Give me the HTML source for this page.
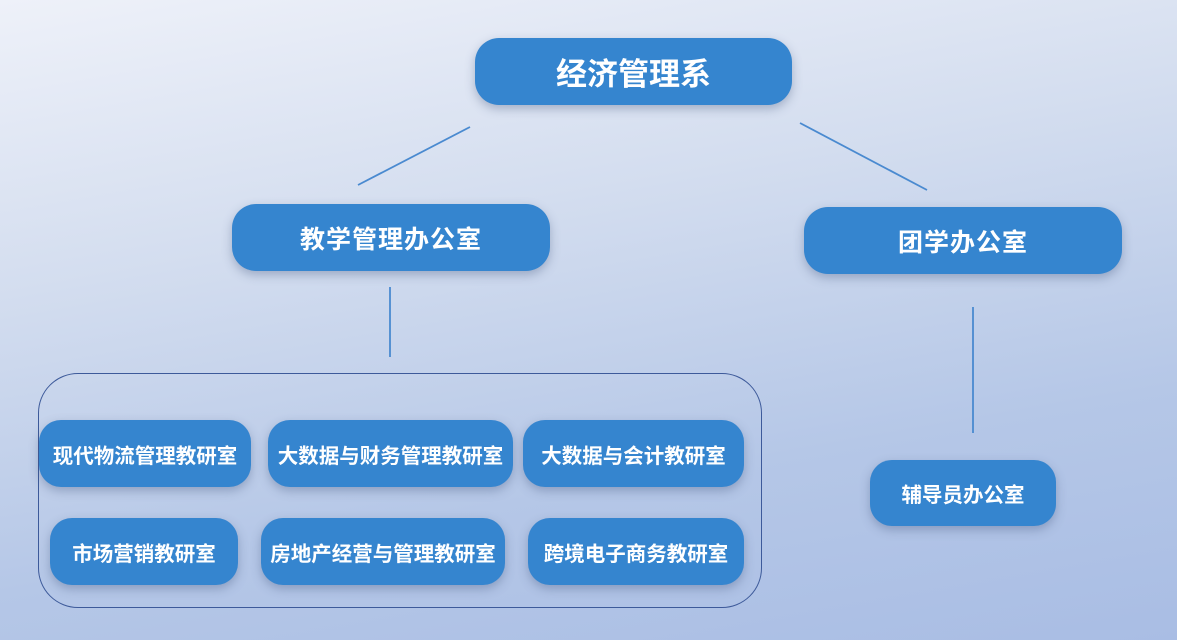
<!DOCTYPE html>
<html><head><meta charset="utf-8"><style>
body{margin:0;width:1177px;height:640px;overflow:hidden;position:relative;
background:linear-gradient(170deg,#eef1f9 0%,#d3ddef 35%,#b5c7e7 70%,#a9bde4 100%);
font-family:"Liberation Sans","Noto Sans CJK SC",sans-serif;}
.b{position:absolute;background:#3585cf;color:#fff;font-weight:bold;border-radius:22px;white-space:nowrap;
display:flex;align-items:center;justify-content:center;box-shadow:0 4px 10px rgba(60,80,120,.35);font-size:20.5px}
.c{position:absolute;left:38px;top:373px;width:722px;height:233px;border:1.5px solid #3d5a9a;border-radius:40px}
svg{position:absolute;left:0;top:0}
</style></head><body>
<svg width="1177" height="640"><g stroke="#4a8ad0" stroke-width="1.8">
<line x1="470" y1="127" x2="358" y2="185"/><line x1="800" y1="123" x2="927" y2="190"/>
<line x1="390" y1="287" x2="390" y2="357"/><line x1="973" y1="307" x2="973" y2="433"/></g></svg>
<div class="c"></div>
<div class="b" style="left:475px;top:38px;width:317px;height:67px;font-size:31px;border-radius:24px">经济管理系</div>
<div class="b" style="left:232px;top:204px;width:318px;height:67px;font-size:25px;border-radius:24px;letter-spacing:1px">教学管理办公室</div>
<div class="b" style="left:804px;top:207px;width:318px;height:67px;font-size:25px;border-radius:24px;letter-spacing:1px">团学办公室</div>
<div class="b" style="left:39px;top:420px;width:212px;height:67px">现代物流管理教研室</div>
<div class="b" style="left:268px;top:420px;width:245px;height:67px">大数据与财务管理教研室</div>
<div class="b" style="left:523px;top:420px;width:221px;height:67px">大数据与会计教研室</div>
<div class="b" style="left:50px;top:518px;width:188px;height:67px">市场营销教研室</div>
<div class="b" style="left:261px;top:518px;width:244px;height:67px">房地产经营与管理教研室</div>
<div class="b" style="left:528px;top:518px;width:216px;height:67px">跨境电子商务教研室</div>
<div class="b" style="left:870px;top:460px;width:186px;height:66px">辅导员办公室</div>
</body></html>
